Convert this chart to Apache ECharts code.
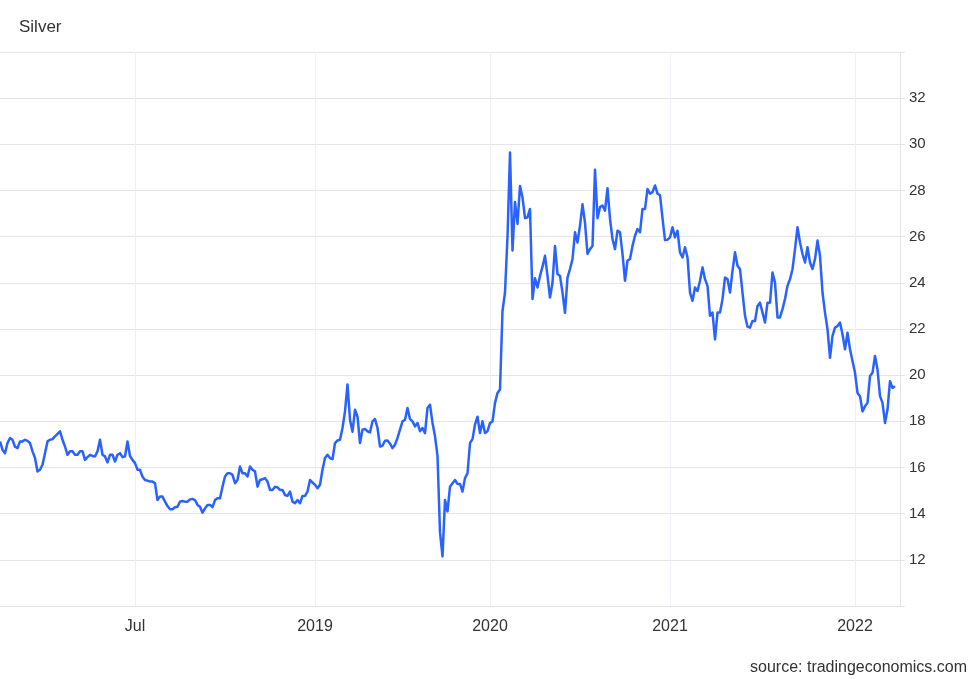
<!DOCTYPE html>
<html>
<head>
<meta charset="utf-8">
<script src="https://cdn.jsdelivr.net/npm/echarts@6/dist/echarts.min.js"></script>
<style>
  html, body { margin: 0; padding: 0; background: #ffffff; }
  #chart { width: 980px; height: 679px; }
</style>
</head>
<body>
<div id="chart"></div>
<script>
// ---- data ----
const titleText = 'Silver';
const sourceText = 'source: tradingeconomics.com';
const startDate = '2017-10-09';
const stepDays = 5;
const silver = [
  17.13, 16.77, 16.62, 17.06, 17.28, 17.2, 16.9, 16.84, 17.13, 17.13,
  17.2, 17.15, 17.06, 16.7, 16.41, 15.83, 15.9, 16.12, 16.62, 17.13,
  17.2, 17.23, 17.35, 17.46, 17.57, 17.2, 16.91, 16.55, 16.7, 16.7,
  16.55, 16.55, 16.7, 16.7, 16.33, 16.45, 16.55, 16.5, 16.48, 16.7,
  17.2, 16.55, 16.48, 16.22, 16.55, 16.55, 16.26, 16.55, 16.62, 16.45,
  16.48, 17.13, 16.5, 16.33, 16.19, 15.9, 15.9, 15.6, 15.46, 15.43,
  15.39, 15.39, 15.32, 14.59, 14.74, 14.74, 14.52, 14.33, 14.19, 14.19,
  14.28, 14.3, 14.52, 14.55, 14.52, 14.52, 14.62, 14.64, 14.59, 14.38,
  14.3, 14.04, 14.23, 14.38, 14.38, 14.28, 14.59, 14.67, 14.67, 15.17,
  15.61, 15.75, 15.75, 15.68, 15.32, 15.46, 16.04, 15.75, 15.75, 15.61,
  16.04, 15.9, 15.83, 15.17, 15.46, 15.49, 15.54, 15.39, 15.03, 15.03,
  15.17, 15.14, 15.03, 15.03, 14.81, 14.77, 14.96, 14.52, 14.45, 14.59,
  14.45, 14.77, 14.77, 14.96, 15.46, 15.35, 15.25, 15.1, 15.25, 15.9,
  16.41, 16.55, 16.41, 16.36, 17.06, 17.17, 17.2, 17.71, 18.43, 19.6,
  18.07, 17.55, 18.5, 18.2, 17.06, 17.64, 17.67, 17.57, 17.52, 18.0,
  18.1, 17.71, 16.91, 16.94, 17.16, 17.17, 17.03, 16.84, 16.99, 17.28,
  17.64, 18.0, 18.07, 18.58, 18.1, 18.0, 17.78, 17.93, 17.57, 17.71,
  17.49, 18.58, 18.72, 17.93, 17.35, 16.5, 13.2, 12.15, 14.59, 14.1,
  15.17, 15.32, 15.46, 15.29, 15.29, 14.96, 15.54, 15.75, 17.06, 17.23,
  17.86, 18.2, 17.49, 18.0, 17.49, 17.57, 17.93, 18.0, 18.8, 19.23,
  19.38, 22.78, 23.58, 26.0, 29.65, 25.4, 27.5, 26.55, 28.2, 27.7,
  26.8, 26.84, 27.2, 23.3, 24.2, 23.8, 24.3, 24.7, 25.17, 24.3,
  23.36, 24.0, 25.6, 24.38, 24.3, 23.58, 22.7, 24.23, 24.6, 25.03,
  26.19, 25.75, 26.48, 27.4, 26.6, 25.25, 25.46, 25.6, 28.9, 26.8,
  27.28, 27.35, 27.13, 28.1, 26.77, 25.9, 25.46, 26.26, 26.19, 25.25,
  24.09, 24.96, 25.03, 25.6, 26.04, 26.33, 26.19, 27.2, 27.2, 28.07,
  27.86, 27.93, 28.22, 27.86, 27.8, 26.8, 25.85, 25.87, 25.97, 26.41,
  25.97, 26.26, 25.32, 25.1, 25.54, 25.1, 23.58, 23.22, 23.8, 23.65,
  24.09, 24.67, 24.16, 23.87, 22.57, 22.71, 21.55, 22.71, 22.71, 23.29,
  24.23, 24.16, 23.58, 24.52, 25.32, 24.74, 24.59, 23.58, 22.57, 22.1,
  22.06, 22.35, 22.35, 23.0, 23.14, 22.71, 22.28, 23.14, 23.14, 24.45,
  24.01, 22.5, 22.5, 22.86, 23.3, 23.87, 24.16, 24.59, 25.46, 26.41,
  25.75, 25.25, 24.88, 25.54, 24.88, 24.6, 25.03, 25.83, 25.17, 23.58,
  22.71, 21.99, 20.75, 21.7, 22.06, 22.13, 22.28, 21.77, 21.12, 21.84,
  21.12, 20.61, 20.1, 19.23, 19.09, 18.43, 18.65, 18.8, 19.96, 20.1,
  20.83, 20.25, 19.09, 18.8, 17.93, 18.51, 19.74, 19.45, 19.52
];
const tickDates = ['2018-07-06', '2019-07-01', '2020-06-15', '2021-06-10', '2022-06-15'];
const tickLabels = ['Jul', '2019', '2020', '2021', '2022'];
const yMin = 10, yMax = 34, yStep = 2;

// ---- categories (two extra empty slots at the end) ----
function fmt(d) {
  const m = String(d.getUTCMonth() + 1).padStart(2, '0');
  const dd = String(d.getUTCDate()).padStart(2, '0');
  return d.getUTCFullYear() + '-' + m + '-' + dd;
}
const dates = [];
const t0 = Date.parse(startDate + 'T00:00:00Z');
for (let i = 0; i < silver.length + 2; i++) {
  dates.push(fmt(new Date(t0 + i * stepDays * 86400000)));
}
const values = silver.concat(['-', '-']);
const isTick = (idx) => tickDates.indexOf(dates[idx]) >= 0;

const font = "'Liberation Sans', Arial, sans-serif";
const chart = echarts.init(document.getElementById('chart'), null, { renderer: 'canvas' });
chart.setOption({
  animation: false,
  backgroundColor: '#ffffff',
  title: [
    { text: titleText, left: 19, top: 19, padding: 0,
      textStyle: { fontFamily: font, fontSize: 17, fontWeight: 'normal', color: '#333333' } },
    { text: sourceText, right: 13, bottom: 3, padding: 0,
      textStyle: { fontFamily: font, fontSize: 16, fontWeight: 'normal', color: '#333333' } }
  ],
  grid: { left: 0, right: 80, top: 52, bottom: 73, containLabel: false },
  xAxis: {
    type: 'category',
    data: dates,
    boundaryGap: false,
    axisLine: { show: true, lineStyle: { color: '#e4e4e4', width: 1 } },
    axisTick: { show: false },
    axisLabel: {
      interval: isTick,
      margin: 13,
      fontFamily: font, fontSize: 16, color: '#333333',
      formatter: (v) => { const k = tickDates.indexOf(v); return k >= 0 ? tickLabels[k] : ''; }
    },
    splitLine: { show: true, interval: isTick, lineStyle: { color: '#eef2f8', width: 1 } }
  },
  yAxis: {
    type: 'value',
    position: 'right',
    min: yMin, max: yMax, interval: yStep,
    axisLine: { show: true, lineStyle: { color: '#e4e4e4', width: 1 } },
    axisTick: { show: true, length: 5, lineStyle: { color: '#e4e4e4' } },
    axisLabel: {
      margin: 9,
      fontFamily: font, fontSize: 15, color: '#333333',
      formatter: (v) => (v === yMin || v === yMax) ? '' : String(v)
    },
    splitLine: { show: true, lineStyle: { color: '#e6e6e6', width: 1 } }
  },
  series: [{
    type: 'line',
    data: values,
    showSymbol: false,
    symbol: 'none',
    lineStyle: { color: '#2962ff', width: 2.5, join: 'round' },
    itemStyle: { color: '#2962ff' }
  }]
});
</script>
</body>
</html>
